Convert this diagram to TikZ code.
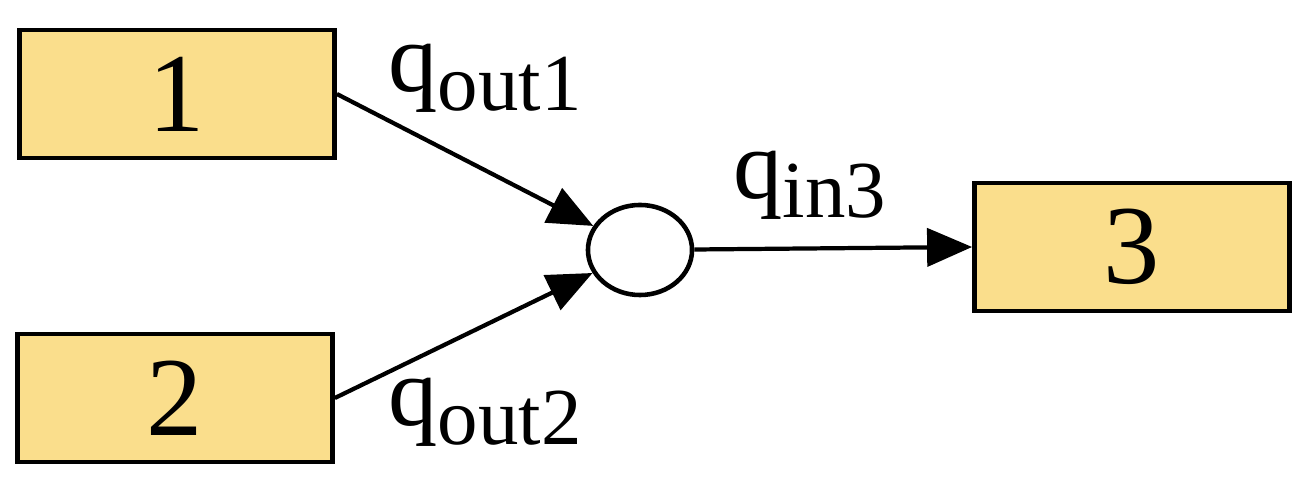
\documentclass[tikz,border=0pt]{standalone}
\usepackage{fontspec}
\setmainfont{Liberation Serif}
\usetikzlibrary{arrows.meta,shapes.geometric}
\definecolor{boxfill}{RGB}{250,222,140}
\begin{document}
\begin{tikzpicture}[x=0.01cm,y=-0.01cm,
  box/.style={draw,line width=1.3pt,fill=boxfill,minimum width=3.15cm,minimum height=1.28cm,font=\fontsize{32}{36}\selectfont,inner sep=0pt},
  arr/.style={line width=1.2pt,-{Triangle[length=0.45cm,width=0.38cm]}},
  lab/.style={font=\fontsize{28}{32}\selectfont}]
\useasboundingbox (0,0) rectangle (1315,486);
\node[box] (b1) at (177,94) {1};
\node[box] (b2) at (175,398) {2};
\node[box] (b3) at (1132,247) {3};
\node[draw,line width=1.3pt,ellipse,minimum width=1.04cm,minimum height=0.9cm,inner sep=0pt] (c) at (640,250) {};
\draw[arr] (b1.east) -- (c);
\draw[arr] (b2.east) -- (c);
\draw[arr] (c) -- (b3.west);
\node[lab] (l1) at (485,78) {q\raisebox{-0.2em}{\fontsize{23}{26}\selectfont out1}};
\node[lab] (l2) at (485,412) {q\raisebox{-0.2em}{\fontsize{23}{26}\selectfont out2}};
\node[lab] (l3) at (810,185) {q\raisebox{-0.2em}{\fontsize{23}{26}\selectfont in3}};
\end{tikzpicture}
\end{document}
